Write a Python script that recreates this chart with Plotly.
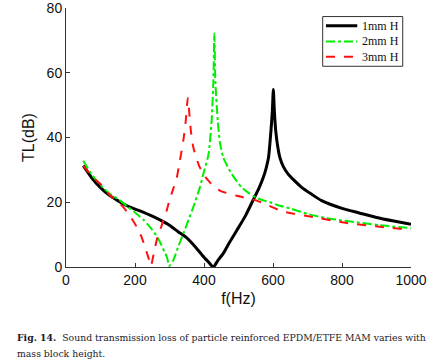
import plotly.graph_objects as go

# 1mm H
f1 = [50, 75, 100, 125, 150, 175, 200, 225, 250, 275, 300, 325, 350, 375, 400, 415, 427,
      440, 456, 475, 495, 520, 543, 560, 572, 580, 587, 594, 598, 601, 604, 608, 614, 620,
      630, 644, 660, 683, 710, 741, 800, 850, 900, 950, 1000]
tl1 = [31.3, 27.5, 24.5, 22.2, 20.5, 19.0, 17.9, 16.9, 15.7, 14.4, 12.9, 10.9, 9.0, 6.2, 3.0, 1.3, 0.0,
       2.0, 4.2, 7.8, 11.3, 15.8, 20.8, 24.5, 27.7, 30.5, 33.8, 42, 48, 54.8, 48, 42, 37, 33.8,
       31.0, 28.7, 26.9, 24.6, 22.6, 20.5, 18.1, 16.7, 15.3, 14.2, 13.2]

# 2mm H
f2 = [50, 75, 100, 125, 157, 180, 205, 225, 243, 260, 272, 285, 292, 300, 311, 325, 340, 355,
      369, 388, 400, 413, 422, 427, 430, 433, 440, 446, 456, 466, 480, 495, 509, 530, 560, 591,
      620, 650, 700, 750, 800, 850, 910, 1000]
tl2 = [32.8, 28.5, 25.3, 22.8, 20.5, 18.5, 16.4, 14.5, 12.4, 10.0, 7.8, 4.8, 3.2, 0.3, 2.1, 6.2, 10.3, 14.5,
       18.5, 24.6, 29.5, 34.8, 45, 57, 72.1, 57, 45, 38.5, 33.8, 31.5, 28.8, 26.5, 24.6, 22.8, 21.0, 20.0,
       18.9, 18.1, 16.4, 15.2, 14.4, 13.7, 12.9, 12.0]

# 3mm H
f3 = [50, 75, 99, 128, 150, 166, 185, 205, 218, 229, 240, 246, 255, 263, 278, 292, 301, 312, 320,
      330, 340, 347, 353, 357, 362, 369, 385, 398, 420, 446, 495, 553, 630, 717, 814, 910, 1000]
tl3 = [31.3, 28.0, 25.7, 22.1, 20.2, 18.5, 15.8, 12.4, 9.5, 6.2, 2.5, 0.3, 4.5, 8.3, 13.0, 17.5, 21.0, 24.5, 27.0,
       32.8, 39.0, 45.0, 52.2, 48.0, 42.0, 37.0, 31.5, 28.7, 25.8, 23.6, 22.0, 20.5, 17.1, 15.4, 13.6, 12.4, 11.5]

series_names = ["1mm H", "2mm H", "3mm H"]
x_ticks = [0, 200, 400, 600, 800, 1000]
y_ticks = [0, 20, 40, 60, 80]

colors = ["black", "#00ee00", "#ff1010"]
dashes = ["solid", "dashdot", "dash"]
widths = [3, 2, 2]

fig = go.Figure()
for fx, ty, nm, c, d, w in zip([f1, f2, f3], [tl1, tl2, tl3], series_names, colors, dashes, widths):
    fig.add_trace(go.Scatter(x=fx, y=ty, mode="lines", name=nm, showlegend=False,
                             line=dict(color=c, width=w, dash=d, shape="spline", smoothing=0.6)))

axis_common = dict(showline=True, linecolor="#333", linewidth=1, ticks="inside", ticklen=4,
                   tickcolor="#333", showgrid=False, zeroline=False, automargin=False,
                   ticklabeloverflow="allow",
                   tickfont=dict(family="Liberation Sans, Arial", size=14, color="#111"))

fig.update_xaxes(range=[0, 1000], tickvals=x_ticks, **axis_common,
                 title=dict(text="f(Hz)", font=dict(family="Liberation Sans, Arial", size=16, color="#111"),
                            standoff=6))
fig.update_yaxes(range=[0, 80], tickvals=y_ticks, **axis_common,
                 title=dict(text="TL(dB)", font=dict(family="Liberation Sans, Arial", size=16, color="#111"),
                            standoff=8))

# custom legend (box, line samples, labels)
shapes = [dict(type="rect", xref="paper", yref="paper", x0=0.744, x1=0.976, y0=0.775, y1=0.967,
               line=dict(color="#333", width=1), fillcolor="white", layer="above")]
annotations = []
leg_y = [0.931, 0.871, 0.812]
for nm, c, d, w, yy in zip(series_names, colors, dashes, widths, leg_y):
    shapes.append(dict(type="line", xref="paper", yref="paper", x0=0.7536, x1=0.8443, y0=yy, y1=yy,
                       line=dict(color=c, width=w, dash=d), layer="above"))
    annotations.append(dict(xref="paper", yref="paper", x=0.852, y=yy, xanchor="left", yanchor="middle",
                            showarrow=False, text=nm,
                            font=dict(family="Liberation Serif, Times New Roman", size=12, color="#111")))

cap_font = dict(family="DejaVu Serif", size=9.3, color="#1a1a2a")
annotations.append(dict(xref="paper", yref="paper", x=-0.148, y=-0.271, xanchor="left", yanchor="middle",
                        showarrow=False, align="left", font=cap_font,
                        text="<b>Fig. 14.</b>  Sound transmission loss of particle reinforced EPDM/ETFE MAM varies with"))
annotations.append(dict(xref="paper", yref="paper", x=-0.148, y=-0.333, xanchor="left", yanchor="middle",
                        showarrow=False, align="left", font=cap_font, text="mass block height."))

fig.update_layout(
    width=439, height=364,
    margin=dict(l=66, r=28, t=8, b=97, autoexpand=False),
    plot_bgcolor="white", paper_bgcolor="white",
    showlegend=False,
    shapes=shapes,
    annotations=annotations,
)

fig.write_html("out.html", config={"displayModeBar": False},
               post_script="document.body.style.margin='0';")
